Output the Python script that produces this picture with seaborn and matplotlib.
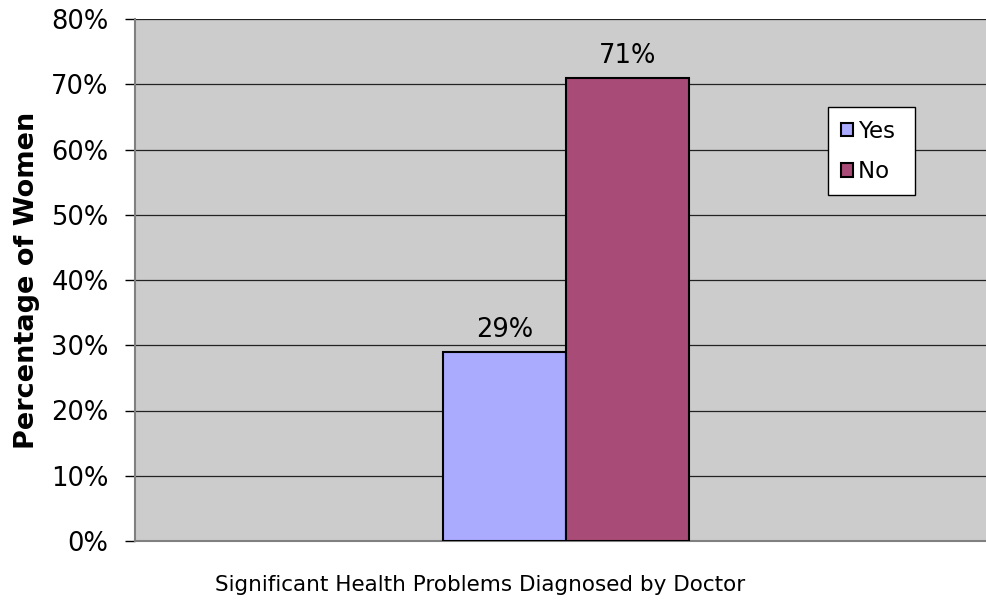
import pandas as pd
import matplotlib.pyplot as plt
import seaborn as sns

# Data
category = ["Significant Health Problems Diagnosed by Doctor"]
answers = ["Yes", "No"]
percentages = [29, 71]

df = pd.DataFrame({
    "Category": category * len(answers),
    "Answer": answers,
    "Percent": percentages,
})

sns.set_style("white")
plt.rcParams["font.family"] = ["DejaVu Sans"]
plt.rcParams["text.color"] = "black"
plt.rcParams["axes.labelcolor"] = "black"
plt.rcParams["ytick.color"] = "black"

fig = plt.figure(figsize=(9.87, 6.03), dpi=100)
ax = fig.add_axes([135 / 987, 62 / 603, 852 / 987, 522 / 603])
ax.set_facecolor("#CCCCCC")

palette = {"Yes": "#AAAAFF", "No": "#A94B77"}
sns.barplot(data=df, x="Category", y="Percent", hue="Answer", palette=palette,
            width=0.288, edgecolor="black", linewidth=1.5, saturation=1,
            ax=ax, zorder=3)

ax.set_xlim(-0.506, 0.494)
ax.set_ylim(0, 80)
ax.set_yticks(range(0, 81, 10))
ax.set_yticklabels([f"{v}%" for v in range(0, 81, 10)], fontsize=18.5)
ax.yaxis.grid(True, color="#222222", linewidth=0.9, zorder=0)
ax.set_axisbelow(True)
ax.tick_params(axis="y", length=7, width=1, color="black", pad=12, left=True)
ax.tick_params(axis="x", length=0)
ax.set_xticklabels([])

for s in ["top", "right"]:
    ax.spines[s].set_visible(False)
ax.spines["left"].set_color("#808080")
ax.spines["left"].set_linewidth(1.5)
ax.spines["bottom"].set_color("#808080")
ax.spines["bottom"].set_linewidth(1.5)

for container in ax.containers:
    ax.bar_label(container, labels=[f"{int(v)}%" for v in container.datavalues],
                 padding=6.5, fontsize=18.5)

ax.set_xlabel(category[0], fontsize=15.5)
ax.xaxis.set_label_coords((480 - 135) / 852, -34 / 522)
ax.set_ylabel("Percentage of Women", fontsize=19.5, fontweight="bold", labelpad=8)

leg = ax.legend(loc="upper left", bbox_to_anchor=(693 / 852, 1 - 88 / 522),
                frameon=True, fancybox=False, fontsize=16.5, handlelength=0.55,
                handleheight=0.55, handletextpad=0.2, labelspacing=0.75,
                borderpad=0.55, borderaxespad=0)
leg.get_frame().set_edgecolor("black")
leg.get_frame().set_facecolor("white")
leg.get_frame().set_linewidth(1)
leg.get_frame().set_alpha(1)
# Excel-style legend box is a bit wider than the entries need
fig.canvas.draw()
for t in leg.get_texts():
    t.set_text(t.get_text() + " ")

fig.savefig("out.png", dpi=100, facecolor="white")
